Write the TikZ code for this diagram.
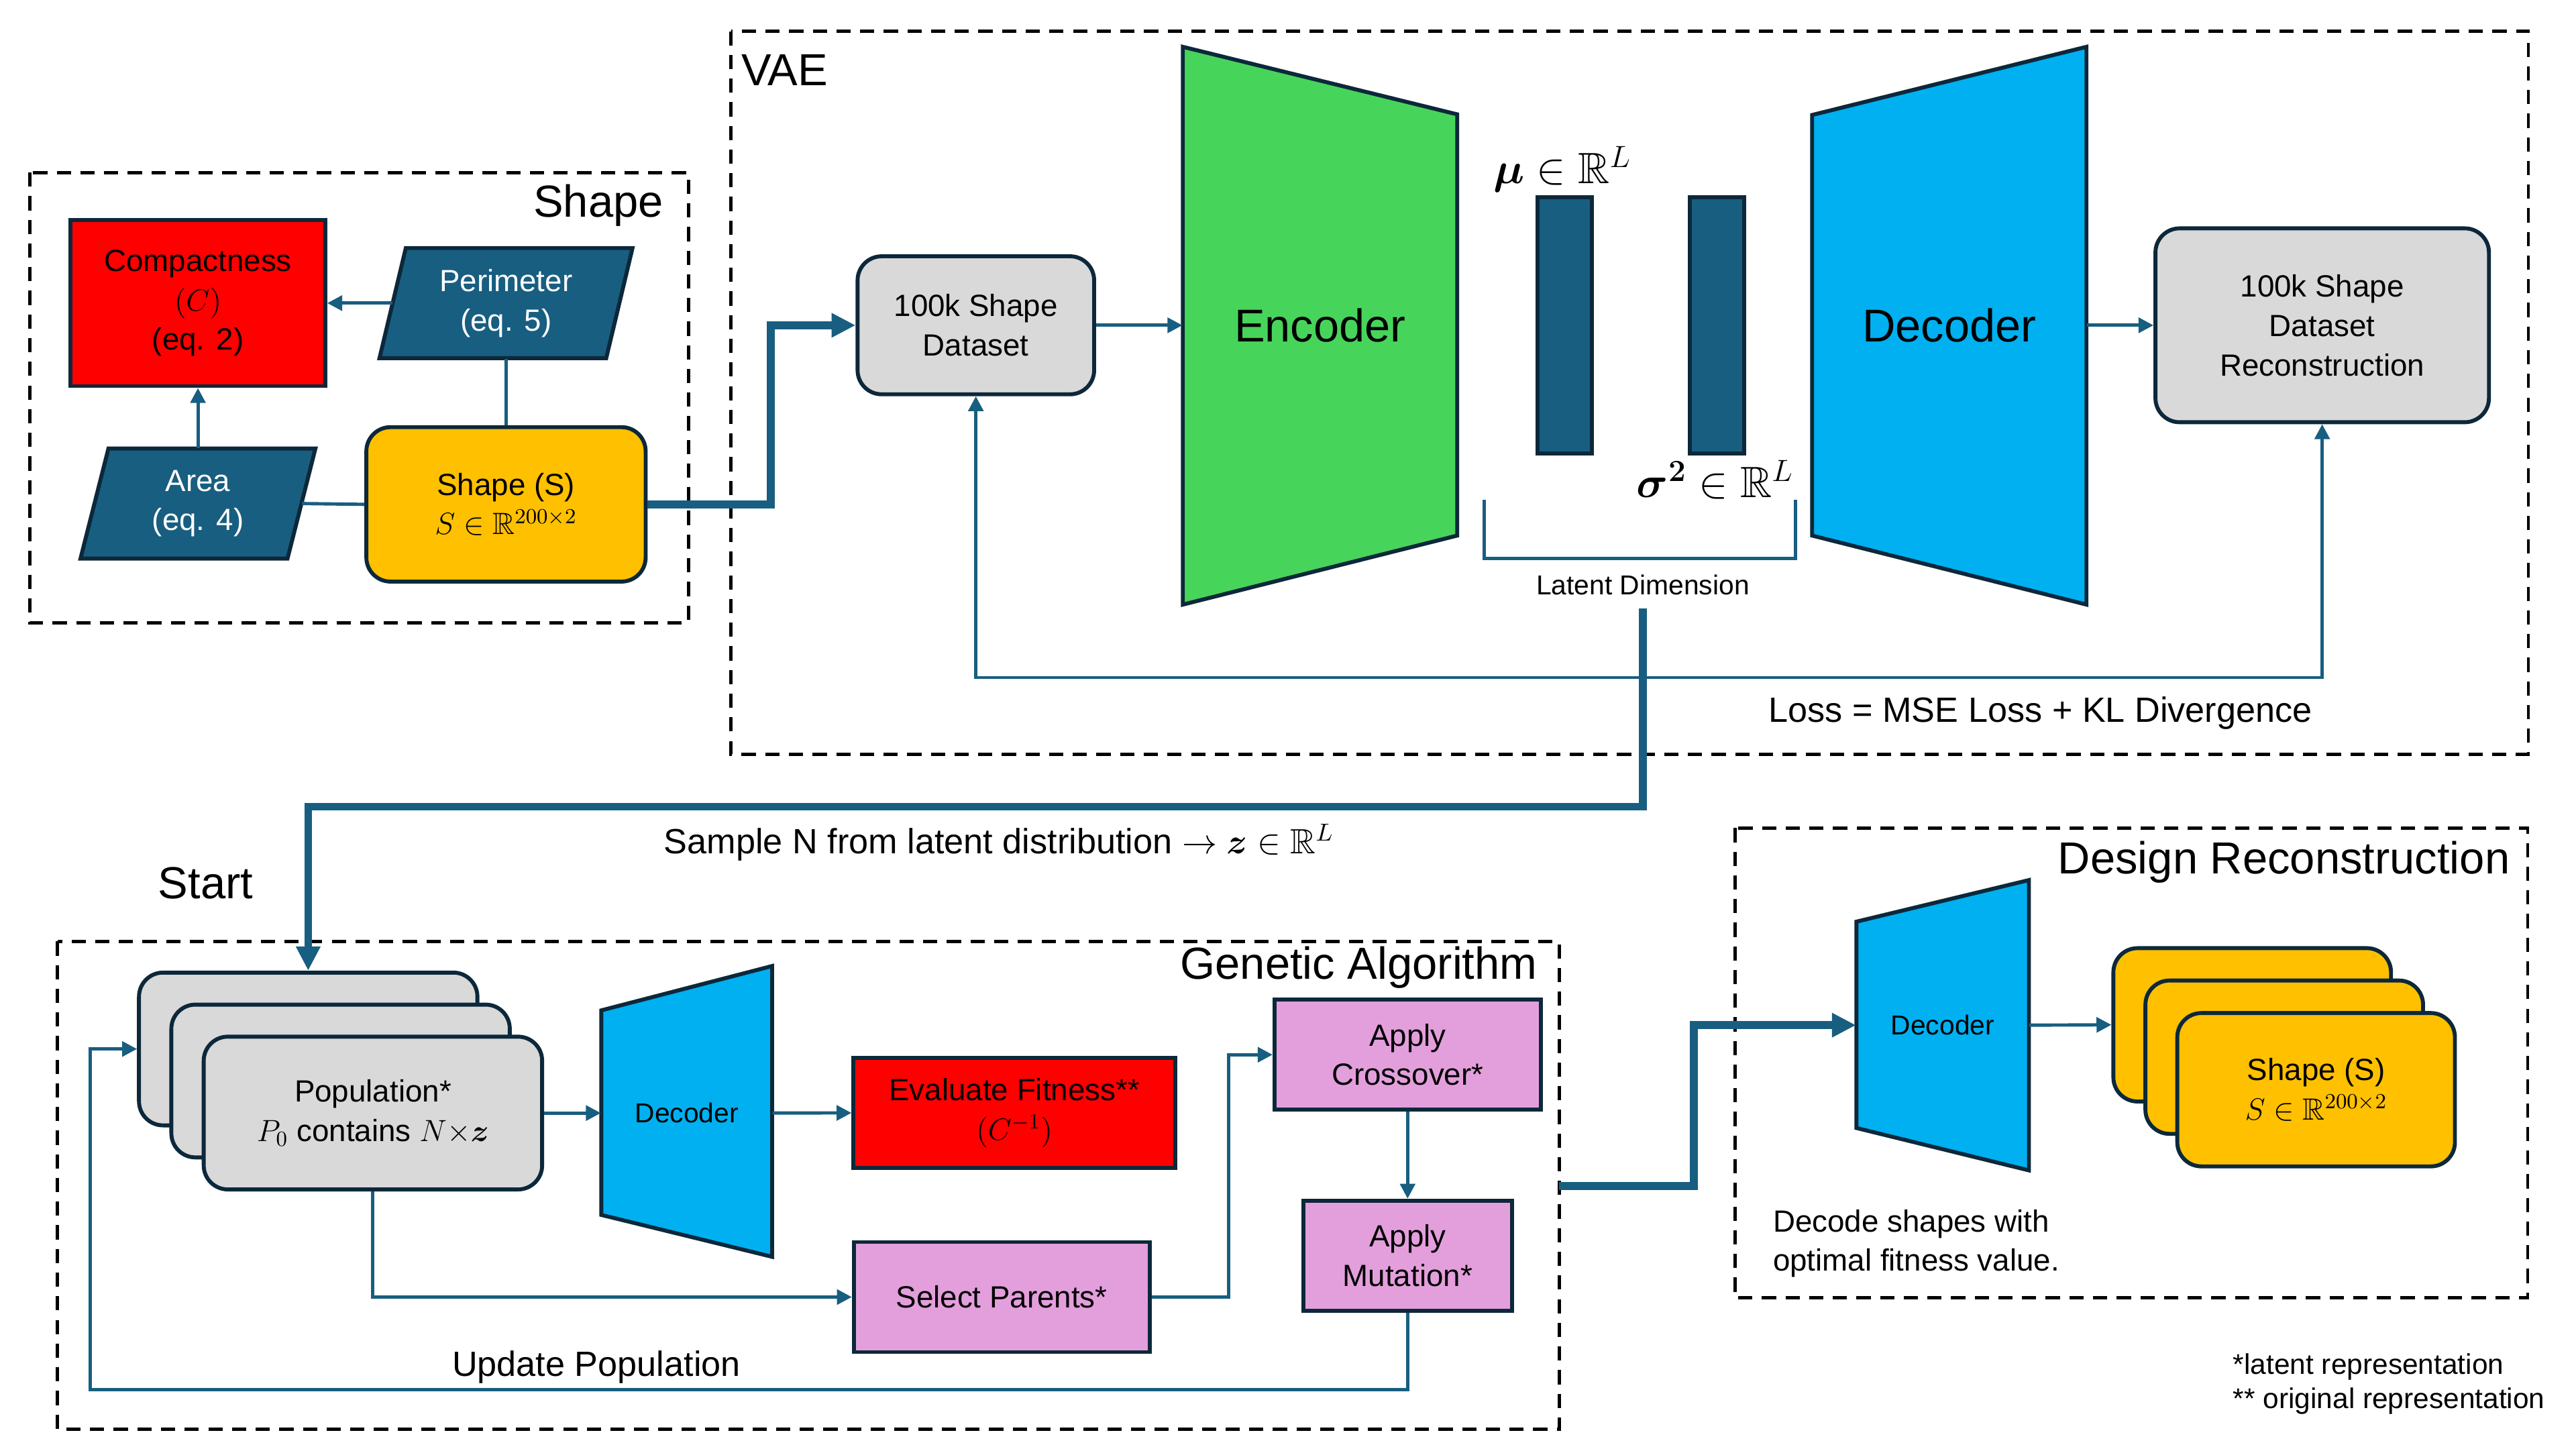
\documentclass[tikz,border=0pt]{standalone}
\usepackage{fix-cm}
\usepackage{amsmath, amssymb}
\usepackage{fontspec}
\setmainfont{Liberation Sans}
\usetikzlibrary{arrows.meta}

\definecolor{tealA}{RGB}{24,94,128}
\definecolor{navyB}{RGB}{12,40,58}
\definecolor{redC}{RGB}{255,0,0}
\definecolor{yelC}{RGB}{255,192,0}
\definecolor{grayC}{RGB}{217,217,217}
\definecolor{greenC}{RGB}{71,212,90}
\definecolor{blueC}{RGB}{0,176,240}
\definecolor{pinkC}{RGB}{227,159,220}

\begin{document}
\begin{tikzpicture}[x=0.75pt,y=0.75pt,yscale=-1,
    grpbox/.style={draw=black, line width=1.5pt, dash pattern=on 6.5pt off 4.3pt},
    blk/.style={draw=navyB, line width=1.8pt, align=center, inner sep=0pt, font=\fontsize{14}{18}\selectfont},
    rnd/.style={blk, rounded corners=11pt},
    trap/.style={draw=navyB, line width=1.8pt},
    lnk/.style={draw=tealA, line width=1.5pt},
    arr/.style={lnk, -{Triangle[length=6.8pt,width=6.8pt]}},
    arrs/.style={lnk, {Triangle[length=6.8pt,width=6.8pt]}-{Triangle[length=6.8pt,width=6.8pt]}},
    thk/.style={draw=tealA, line width=3.5pt, -{Triangle[length=11pt,width=10.5pt]}},
    ttl/.style={inner sep=0pt, font=\fontsize{20.5}{24}\selectfont},
    lbl/.style={inner sep=0pt, align=center, font=\fontsize{16}{20}\selectfont},
    sml/.style={inner sep=0pt, align=left, font=\fontsize{13}{15.75}\selectfont}]
    \useasboundingbox (0,0) rectangle (1568,882);

    %Shape: Group box [Shape]
    \draw[grpbox] (18,105) rectangle (419,379);
    % Text Node
    \draw (404,132) node (shapeT) [ttl, anchor=base east] {Shape};
    %Shape: Rectangle
    \draw (120.5,184.5) node (cmp) [blk, fill=redC, minimum width=116.25pt, minimum height=75.75pt] {Compactness\\$(C)$\\(eq. 2)};
    %Shape: Parallelogram
    \draw[trap, fill=tealA] (231,218) -- (247,151) -- (385,151) -- (369,218) -- cycle;
    \draw (308,184.5) node (per) [inner sep=0pt, minimum width=103.5pt, minimum height=50.25pt, align=center, text=white, font=\fontsize{14}{18}\selectfont] {Perimeter\\(eq. 5)};
    %Shape: Parallelogram
    \draw[trap, fill=tealA] (49,340) -- (66,273) -- (192,273) -- (175,340) -- cycle;
    \draw (120.5,306.5) node (area) [inner sep=0pt, minimum width=94.5pt, minimum height=50.25pt, align=center, text=white, font=\fontsize{14}{18}\selectfont] {Area\\(eq. 4)};
    %Shape: Rounded Rect
    \draw (308,307) node (shp) [rnd, fill=yelC, minimum width=127.5pt, minimum height=70.5pt] {Shape (S)\\$S\in\mathbb{R}^{200\times 2}$};
    %Straight Lines
    \draw[arr] (per.west) -- (cmp.east);
    \draw[arr] (area.north) -- (cmp.south);
    \draw[lnk] (shp.north) -- (per.south);
    \draw[lnk] (area.east) -- (shp.west);

    %Shape: Group box [VAE]
    \draw[grpbox] (445,19) rectangle (1539,459);
    % Text Node
    \draw (451,52) node (vaeT) [ttl, anchor=base west] {VAE};
    %Shape: Rounded Rect
    \draw (594,198) node (ds) [rnd, fill=grayC, minimum width=108pt, minimum height=63pt] {100k Shape\\Dataset};
    %Shape: Trapezoid
    \draw[trap, fill=greenC] (720,28.5) -- (887,69.6) -- (887,326) -- (720,368) -- cycle;
    \draw (803.5,198) node (enc) [inner sep=0pt, minimum width=125.25pt, font=\fontsize{21}{24}\selectfont] {Encoder};
    %Shape: Rectangle
    \draw (952.5,198) node (mu) [draw=navyB, line width=1.8pt, fill=tealA, minimum width=24.75pt, minimum height=117pt] {};
    \draw (1045,198) node (sig) [draw=navyB, line width=1.8pt, fill=tealA, minimum width=24.75pt, minimum height=117pt] {};
    % Text Node
    \draw (951,103) node (muT) [inner sep=0pt, font=\fontsize{20}{24}\selectfont] {$\boldsymbol{\mu}\in\mathbb{R}^{L}$};
    % Text Node
    \draw (1044,292) node (sigT) [inner sep=0pt, font=\fontsize{20}{24}\selectfont] {$\boldsymbol{\sigma^{2}}\in\mathbb{R}^{L}$};
    %Shape: Trapezoid
    \draw[trap, fill=blueC] (1103,70) -- (1270,28.5) -- (1270,368) -- (1103,326) -- cycle;
    \draw (1186.5,198) node (dec) [inner sep=0pt, minimum width=125.25pt, font=\fontsize{21}{24}\selectfont] {Decoder};
    %Shape: Rounded Rect
    \draw (1413.5,198) node (rec) [rnd, fill=grayC, minimum width=152.25pt, minimum height=88.5pt] {100k Shape\\Dataset\\Reconstruction};
    %Straight Lines
    \draw[lnk] (903.6,304) -- (903.6,340) -- (1093,340) -- (1093,304);
    % Text Node
    \draw (1000,356) node (ldim) [inner sep=0pt, font=\fontsize{12.5}{15}\selectfont] {Latent Dimension};
    \coordinate (lossc) at (1000,412.4);
    \draw[arr] (ds.east) -- (enc.west);
    \draw[arr] (dec.east) -- (rec.west);
    \draw[arrs] (ds.south) |- (lossc) -| (rec.south);
    % Text Node
    \draw (1242,434) node (loss) [lbl] {Loss = MSE Loss + KL Divergence};
    \draw[thk] (shp.east) -- ++(75,0) |- (ds.west);

    % Text Node
    \draw (96,547) node (startT) [ttl, anchor=base west] {Start};
    % Text Node
    \draw (608,513) node (smpT) [lbl] {Sample N from latent distribution $\rightarrow\boldsymbol{z}\in\mathbb{R}^{L}$};

    %Shape: Group box [GA]
    \draw[grpbox] (35,573) rectangle (949,870);
    % Text Node
    \draw (936,596) node (gaT) [ttl, anchor=base east] {Genetic Algorithm};
    %Shape: Rounded Rect (stack)
    \draw (187.6,638.5) node (popA) [rnd, fill=grayC, minimum width=154.5pt, minimum height=69.75pt] {};
    \draw (207.3,658) node (popB) [rnd, fill=grayC, minimum width=154.5pt, minimum height=69.75pt] {};
    \draw (227,677.5) node (popC) [rnd, fill=grayC, minimum width=154.5pt, minimum height=69.75pt] {Population*\\$P_0$ contains $N{\times}\boldsymbol{z}$};
    %Shape: Trapezoid
    \draw[trap, fill=blueC] (366,615) -- (470,588) -- (470,765) -- (366,739.5) -- cycle;
    \draw (418,677.5) node (gdec) [inner sep=0pt, minimum width=78pt, font=\fontsize{12.5}{15}\selectfont] {Decoder};
    %Shape: Rectangle
    \draw (617.5,677.4) node (fit) [blk, fill=redC, minimum width=147pt, minimum height=50.25pt] {Evaluate Fitness**\\$(C^{-1})$};
    \draw (609.7,789.5) node (sel) [blk, fill=pinkC, minimum width=135pt, minimum height=50.25pt] {Select Parents*};
    \draw (856.8,642) node (crs) [blk, fill=pinkC, minimum width=121.5pt, minimum height=50.25pt] {Apply\\Crossover*};
    \draw (856.8,764.3) node (mut) [blk, fill=pinkC, minimum width=95.25pt, minimum height=50.25pt] {Apply\\Mutation*};
    \coordinate (smp) at (600,491);
    \coordinate (upd) at (55,845.7);
    \coordinate (gaout) at (949,722);
    %Straight Lines
    \draw[thk] ([yshift=6pt]ldim.south) |- (smp) -| (popA.north);
    \draw[arr] (popC.east) -- (gdec.west);
    \draw[arr] (gdec.east) -- (fit.west);
    \draw[arr] (popC.south) |- (sel.west);
    \draw[arr] (sel.east) -- ++(47,0) |- (crs.west);
    \draw[arr] (crs.south) -- (mut.north);
    \draw[arr] (mut.south) |- (upd) |- (popA.west);
    % Text Node
    \draw (363,832) node (updT) [lbl] {Update Population};

    %Shape: Group box [Design Reconstruction]
    \draw[grpbox] (1056,504) rectangle (1538.6,790);
    % Text Node
    \draw (1528,532) node (drT) [ttl, anchor=base east] {Design Reconstruction};
    %Shape: Trapezoid
    \draw[trap, fill=blueC] (1130,561) -- (1235,535.7) -- (1235,712.4) -- (1130,686.6) -- cycle;
    \draw (1182.5,624) node (ddec) [inner sep=0pt, minimum width=78.75pt, font=\fontsize{12.5}{15}\selectfont] {Decoder};
    %Shape: Rounded Rect (stack)
    \draw (1370.9,623.8) node (shA) [rnd, fill=yelC, minimum width=126.75pt, minimum height=70pt] {};
    \draw (1390.4,643.5) node (shB) [rnd, fill=yelC, minimum width=126.75pt, minimum height=70pt] {};
    \draw (1409.8,663.3) node (shC) [rnd, fill=yelC, minimum width=126.75pt, minimum height=70pt] {Shape (S)\\$S\in\mathbb{R}^{200\times 2}$};
    %Straight Lines
    \draw[thk] (gaout) -- ++(82,0) |- (ddec.west);
    \draw[arr] (ddec.east) -- (shA.west);
    % Text Node
    \draw (1079,757) node (decT) [inner sep=0pt, anchor=west, align=left, font=\fontsize{14}{17.6}\selectfont] {Decode shapes with\\optimal fitness value.};
    % Text Node
    \draw (1359,842.5) node (noteT) [sml, anchor=west] {*latent representation\\** original representation};
\end{tikzpicture}
\end{document}
